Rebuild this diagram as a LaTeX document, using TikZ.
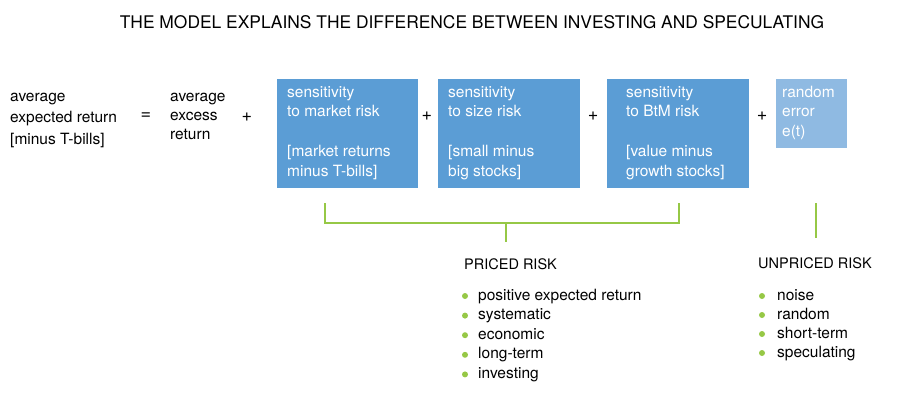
\documentclass[tikz,border=0pt]{standalone}
\usepackage{fontspec}
\setmainfont{TeX Gyre Heros}
\usetikzlibrary{positioning}

\definecolor{factorblue}{RGB}{91,157,213}
\definecolor{errorblue}{RGB}{143,186,226}
\definecolor{riskgreen}{RGB}{150,200,70}

\begin{document}
\begin{tikzpicture}[x=1pt,y=-1pt,
    txt/.style={anchor=base west,inner sep=0pt,align=left,font=\fontsize{15.5}{19.5}\selectfont},
    boxtxt/.style={txt,text=white},
    factor/.style={fill=factorblue,anchor=north west,inner sep=0pt},
    op/.style={inner sep=0pt,font=\fontsize{18}{20}\selectfont},
    heading/.style={anchor=base west,inner sep=0pt,font=\fontsize{14.5}{17}\selectfont},
    riskline/.style={draw=riskgreen,line width=2pt},
    dot/.style={circle,fill=riskgreen,inner sep=0pt,minimum size=6pt}]
\useasboundingbox (0,0) rectangle (900,400);

\node[anchor=base,inner sep=0pt,font=\fontsize{17.4}{20}\selectfont] (title) at (472,28)
    {THE MODEL EXPLAINS THE DIFFERENCE BETWEEN INVESTING AND SPECULATING};

% equation (base = last line)
\node[txt,font=\fontsize{15.5}{21.5}\selectfont] (lhs) at (10,144) {average\\expected return\\{[minus} T-bills]};
\node[op] (eq) at (146,116) {=};
\node[txt,font=\fontsize{15.5}{19}\selectfont] (excess) at (170,139) {average\\excess\\return};
\node[op] (p1) at (247,117) {+};

\node[factor,minimum width=141pt,minimum height=109pt] (mkt) at (277,79) {};
\node[boxtxt] (mkttxt) at (287,176) {sensitivity\\to market risk\\[20.5pt]{[market} returns\\minus T-bills]};
\node[op] (p2) at (427,116) {+};

\node[factor,minimum width=142pt,minimum height=109pt] (size) at (438,79) {};
\node[boxtxt] (sizetxt) at (448,176) {sensitivity\\to size risk\\[20.5pt]{[small} minus\\big stocks]};
\node[op] (p3) at (593,116) {+};

\node[factor,minimum width=142pt,minimum height=109pt] (btm) at (607,79) {};
\node[boxtxt] (btmtxt) at (626,176) {sensitivity\\to BtM risk\\[20.5pt]{[value} minus\\growth stocks]};
\node[op] (p4) at (762,116) {+};

\node[factor,fill=errorblue,minimum width=71pt,minimum height=69pt] (err) at (776,79) {};
\node[boxtxt] (errtxt) at (782,136) {random\\error\\e(t)};

% bracket over the priced factors
\coordinate (bl) at (325,203);
\coordinate (br) at (679,203);
\coordinate (bm) at (506,223);
\coordinate (bd) at (506,242);
\draw[riskline] (bl) |- (bm) -| (br);
\draw[riskline] (bm) -- (bd);

\coordinate (ut) at (816,203);
\coordinate (ub) at (816,238);
\draw[riskline] (ut) -- (ub);

% priced risk
\node[heading] (priced) at (464,269) {PRICED RISK};
\foreach \item [count=\i] in {positive expected return,systematic,economic,long-term,investing} {
    \node[dot] (pd\i) at (465,{276.4+19.6*\i}) {};
    \node[txt] (pi\i) at (478,{280.4+19.6*\i}) {\item};
}

% unpriced risk
\node[heading] (unpriced) at (758,268) {UNPRICED RISK};
\foreach \item [count=\i] in {noise,random,short-term,speculating} {
    \node[dot] (ud\i) at (762,{277+19*\i}) {};
    \node[txt] (ui\i) at (777,{281+19*\i}) {\item};
}
\end{tikzpicture}
\end{document}
